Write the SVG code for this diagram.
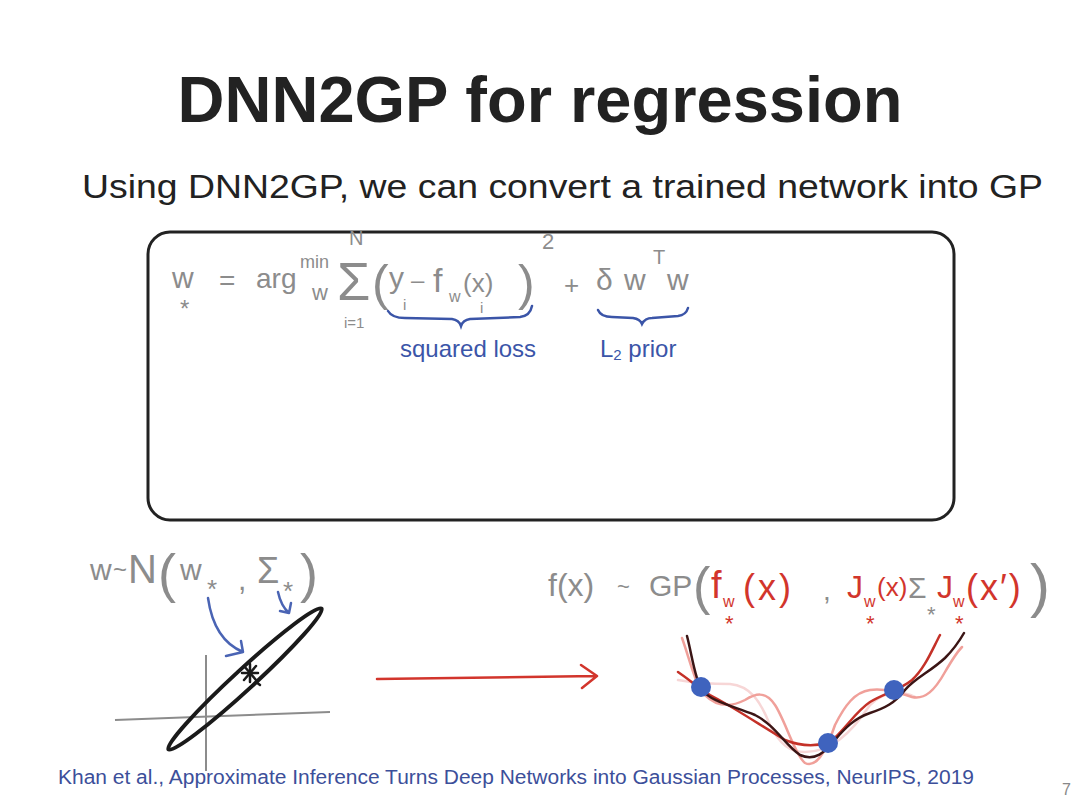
<svg xmlns="http://www.w3.org/2000/svg" width="1080" height="810" viewBox="0 0 1080 810">
<style>
.hw{font-family:"Liberation Sans","DejaVu Sans",sans-serif;fill:#8c8c8c}
.r{fill:#d2352c}
.bl{font-family:"Liberation Sans","DejaVu Sans",sans-serif;fill:#3b55a8}
.brace{fill:none;stroke:#3b55a8;stroke-width:2.5;stroke-linecap:round}
.barrow{fill:none;stroke:#4a64b4;stroke-width:2.5;stroke-linecap:round;stroke-linejoin:round}
.curve{fill:none;stroke-width:2.5;stroke-linecap:round}
</style>
<rect width="1080" height="810" fill="#ffffff"/>
<g id="title">
<text x="540" y="122" text-anchor="middle" font-family="Liberation Sans, Arial, sans-serif" font-weight="bold" font-size="65" fill="#222">DNN2GP for regression</text>
</g>
<g id="subtitle">
<text x="82" y="198" font-family="Liberation Sans, Arial, sans-serif" font-size="33" fill="#222" textLength="961" lengthAdjust="spacingAndGlyphs">Using DNN2GP, we can convert a trained network into GP</text>
</g>
<g id="box">
<rect x="148" y="232" width="806" height="288" rx="22" fill="none" stroke="#222" stroke-width="3"/>
</g>
<g id="objective">
<text class="hw" font-size="30"><tspan x="172" y="288">w</tspan><tspan x="180" y="317" font-size="24">*</tspan><tspan x="219" y="290" font-size="28">=</tspan><tspan x="256" y="288" font-size="28">arg</tspan><tspan x="300" y="268" font-size="18">min</tspan><tspan x="312" y="300" font-size="22">w</tspan><tspan x="337" y="300" font-size="54">Σ</tspan><tspan x="349" y="245" font-size="20">N</tspan><tspan x="344" y="328" font-size="15">i=1</tspan><tspan x="372" y="300" font-size="50">(</tspan><tspan x="389" y="288">y</tspan><tspan x="403" y="310" font-size="15">i</tspan><tspan x="411" y="288" font-size="24">–</tspan><tspan x="433" y="292" font-size="34">f</tspan><tspan x="449" y="302" font-size="16">w</tspan><tspan x="463" y="292" font-size="26">(x)</tspan><tspan x="480" y="313" font-size="15">i</tspan><tspan x="518" y="300" font-size="50">)</tspan><tspan x="542" y="249" font-size="22">2</tspan><tspan x="564" y="294" font-size="26">+</tspan><tspan x="596" y="290">δ</tspan><tspan x="624" y="290">w</tspan><tspan x="653" y="264" font-size="20">T</tspan><tspan x="667" y="290">w</tspan></text>
<path class="brace" d="M388,311 Q392,318 405,318 L452,319 Q459,320 461,326 Q463,320 470,319 L520,317 Q530,316 532,306"/>
<path class="brace" d="M598,310 Q601,317 612,317 L633,318 Q640,319 642,324 Q645,318 652,318 L678,316 Q686,315 688,308"/>
<text class="bl" x="400" y="357" font-size="24">squared loss</text>
<text class="bl" x="600" y="357" font-size="24">L<tspan font-size="15" dy="3">2</tspan><tspan dy="-3"> prior</tspan></text>
</g>
<g id="posterior">
<text class="hw" font-size="30"><tspan x="90" y="580">w</tspan><tspan x="113" y="578" font-size="24">~</tspan><tspan x="128" y="583" font-size="40">N</tspan><tspan x="158" y="592" font-size="54">(</tspan><tspan x="180" y="580">w</tspan><tspan x="207" y="598" font-size="26">*</tspan><tspan x="238" y="590">,</tspan><tspan x="257" y="583" font-size="36">Σ</tspan><tspan x="283" y="600" font-size="26">*</tspan><tspan x="300" y="592" font-size="54">)</tspan></text>
<path class="barrow" d="M208,598 Q214,640 243,652 M226,656 L243,652 L241,641"/>
<path class="barrow" d="M278,592 Q281,606 289,613 M280,611 L289,613 L291,603"/>
<line x1="206" y1="655" x2="206" y2="771" stroke="#8c8c8c" stroke-width="2"/>
<line x1="115" y1="720" x2="330" y2="712" stroke="#8c8c8c" stroke-width="2"/>
<ellipse cx="245" cy="679" rx="104" ry="10" transform="rotate(-42.6 245 679)" fill="none" stroke="#1a1a1a" stroke-width="4"/>
<g stroke="#1a1a1a" stroke-width="2.5" stroke-linecap="round">
<line x1="244" y1="666" x2="256" y2="680"/>
<line x1="256" y1="666" x2="244" y2="680"/>
<line x1="250" y1="664" x2="250" y2="682"/>
<line x1="242" y1="673" x2="258" y2="673"/>
<line x1="256" y1="682" x2="260" y2="685"/>
</g>
</g>
<g id="connectors">
<path d="M377,679 L596,676 M581,665 L597,676 L582,688" fill="none" stroke="#d2352c" stroke-width="2.5" stroke-linecap="round" stroke-linejoin="round"/>
</g>
<g id="gp">
<text class="hw" font-size="32"><tspan x="548" y="596">f(x)</tspan><tspan x="617" y="594" font-size="22">~</tspan><tspan x="649" y="596" font-size="30">GP</tspan><tspan x="693" y="604" font-size="52">(</tspan><tspan class="r" x="711" y="598" font-size="38">f</tspan><tspan class="r" x="723" y="607" font-size="16">w</tspan><tspan class="r" x="725" y="631" font-size="22">*</tspan><tspan class="r" x="743" y="600" font-size="36" letter-spacing="3">(x)</tspan><tspan x="823" y="600" font-size="28">,</tspan><tspan class="r" x="847" y="598">J</tspan><tspan class="r" x="864" y="607" font-size="16">w</tspan><tspan class="r" x="866" y="631" font-size="22">*</tspan><tspan class="r" x="877" y="596" font-size="26">(x)</tspan><tspan x="908" y="598" font-size="30">Σ</tspan><tspan x="927" y="622" font-size="22">*</tspan><tspan class="r" x="937" y="598">J</tspan><tspan class="r" x="953" y="607" font-size="16">w</tspan><tspan class="r" x="955" y="631" font-size="22">*</tspan><tspan class="r" x="966" y="600" font-size="36" letter-spacing="2">(x′)</tspan><tspan x="1030" y="606" font-size="60">)</tspan></text>
<path class="curve" stroke="#f7d6d6" d="M678,680 C700,684 715,684 730,684 C750,686 760,700 770,725 C780,745 790,752 805,752 C830,752 850,735 870,705 C885,690 900,690 915,697"/>
<path class="curve" stroke="#f0a09a" d="M682,638 C690,660 695,685 705,695 C720,710 735,705 745,700 C755,694 765,690 775,705 C785,720 795,755 805,763 C815,768 825,755 835,725 C845,705 855,692 870,690 C885,688 900,693 912,697 C925,700 935,690 945,672 C952,660 957,652 962,647"/>
<path class="curve" stroke="#c43128" d="M678,672 C690,680 698,688 710,695 C730,705 760,725 785,740 C800,746 815,747 830,742 C845,730 855,712 870,702 C885,693 900,690 912,680 C925,668 932,650 940,635"/>
<path class="curve" stroke="#3b1515" d="M687,636 C692,655 695,680 702,690 C712,702 730,705 755,715 C775,725 785,745 800,755 C815,762 825,752 835,740 C845,728 855,718 870,713 C885,708 895,703 905,690 C915,678 930,672 945,658 C955,648 960,640 964,633"/>
<g fill="#3f63be">
<circle cx="701" cy="687" r="10"/>
<circle cx="828" cy="743" r="10"/>
<circle cx="894" cy="690" r="10"/>
</g>
</g>
<g id="footer">
<text x="58" y="784" font-family="Liberation Sans, Arial, sans-serif" font-size="20" fill="#3c4f9a" textLength="916" lengthAdjust="spacingAndGlyphs">Khan et al., Approximate Inference Turns Deep Networks into Gaussian Processes, NeurIPS, 2019</text>
<text x="1062" y="795" font-family="Liberation Sans, Arial, sans-serif" font-size="16" fill="#888">7</text>
</g>
</svg>
